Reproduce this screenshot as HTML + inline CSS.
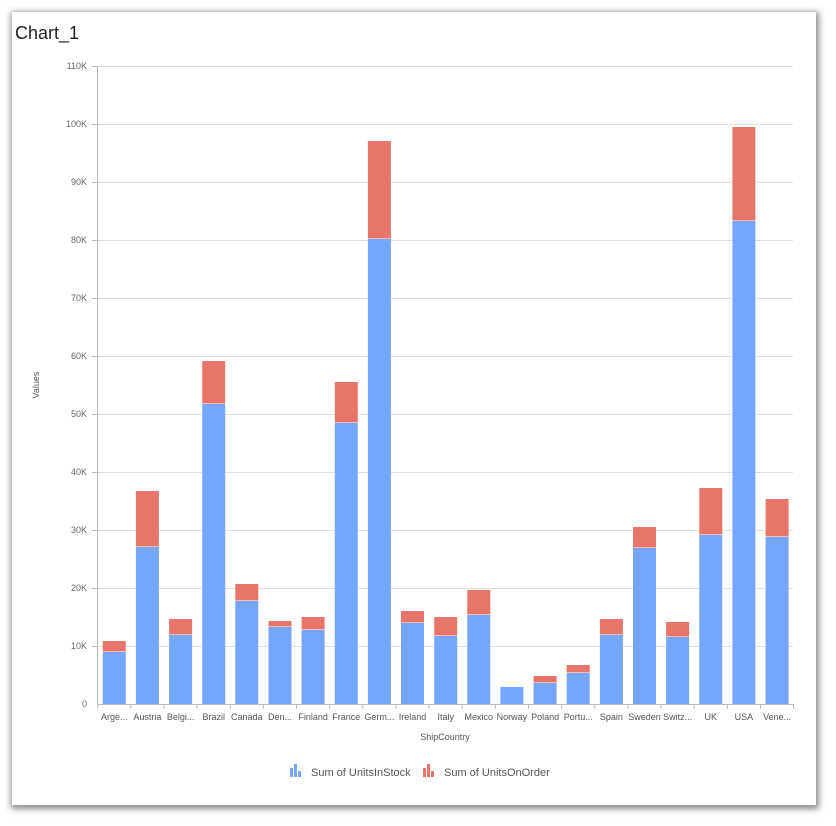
<!DOCTYPE html>
<html><head><meta charset="utf-8"><style>
html,body{margin:0;padding:0;background:#fff;}
body{width:836px;height:826px;position:relative;overflow:hidden;font-family:"Liberation Sans",sans-serif;}
.card{position:absolute;left:12px;top:12px;width:804px;height:793px;background:#fff;box-shadow:1px 2px 6px 2px rgba(0,0,0,0.45);}
</style></head><body>
<div class="card"></div>
<svg width="836" height="826" style="position:absolute;left:0;top:0" font-family="Liberation Sans, sans-serif">
<text x="15" y="39" font-size="18" fill="#222">Chart_1</text>
<g stroke="#e0e0e0" stroke-width="1">
<line x1="97" x2="793" y1="66.5" y2="66.5"/><line x1="97" x2="793" y1="124.5" y2="124.5"/>
<line x1="97" x2="793" y1="182.5" y2="182.5"/><line x1="97" x2="793" y1="240.5" y2="240.5"/>
<line x1="97" x2="793" y1="298.5" y2="298.5"/><line x1="97" x2="793" y1="356.5" y2="356.5"/>
<line x1="97" x2="793" y1="414.5" y2="414.5"/><line x1="97" x2="793" y1="472.5" y2="472.5"/>
<line x1="97" x2="793" y1="530.5" y2="530.5"/><line x1="97" x2="793" y1="588.5" y2="588.5"/>
<line x1="97" x2="793" y1="646.5" y2="646.5"/>
</g>
<g stroke="#bbb"><line x1="97.5" x2="97.5" y1="66" y2="704"/>
<line x1="92" x2="97" y1="66.5" y2="66.5"/><line x1="92" x2="97" y1="124.5" y2="124.5"/><line x1="92" x2="97" y1="182.5" y2="182.5"/><line x1="92" x2="97" y1="240.5" y2="240.5"/><line x1="92" x2="97" y1="298.5" y2="298.5"/><line x1="92" x2="97" y1="356.5" y2="356.5"/><line x1="92" x2="97" y1="414.5" y2="414.5"/><line x1="92" x2="97" y1="472.5" y2="472.5"/><line x1="92" x2="97" y1="530.5" y2="530.5"/><line x1="92" x2="97" y1="588.5" y2="588.5"/><line x1="92" x2="97" y1="646.5" y2="646.5"/>
</g>
<g font-size="9" fill="#666" text-anchor="end">
<text x="87" y="69">110K</text><text x="87" y="127">100K</text><text x="87" y="185">90K</text><text x="87" y="243">80K</text><text x="87" y="301">70K</text><text x="87" y="359">60K</text><text x="87" y="417">50K</text><text x="87" y="475">40K</text><text x="87" y="533">30K</text><text x="87" y="591">20K</text><text x="87" y="649">10K</text><text x="87" y="707">0</text>
</g>
<text x="39" y="385" font-size="9" fill="#555" text-anchor="middle" transform="rotate(-90 39 385)">Values</text>
<g fill="#75a6fb">
<rect x="102.8" y="652" width="23" height="52"/><rect x="135.9" y="547" width="23" height="157"/><rect x="169.1" y="635" width="23" height="69"/><rect x="202.2" y="404" width="23" height="300"/><rect x="235.3" y="601" width="23" height="103"/><rect x="268.5" y="627" width="23" height="77"/><rect x="301.6" y="630" width="23" height="74"/><rect x="334.8" y="423" width="23" height="281"/><rect x="367.9" y="239" width="23" height="465"/><rect x="401" y="623" width="23" height="81"/><rect x="434.2" y="636" width="23" height="68"/><rect x="467.3" y="615" width="23" height="89"/><rect x="500.4" y="687" width="23" height="17"/><rect x="533.6" y="683" width="23" height="21"/><rect x="566.7" y="673" width="23" height="31"/><rect x="599.9" y="635" width="23" height="69"/><rect x="633" y="548" width="23" height="156"/><rect x="666.1" y="637" width="23" height="67"/><rect x="699.3" y="535" width="23" height="169"/><rect x="732.4" y="221" width="23" height="483"/><rect x="765.6" y="537" width="23" height="167"/>
</g>
<g fill="#e8756a">
<rect x="102.8" y="641" width="23" height="10.5"/><rect x="135.9" y="491" width="23" height="55.5"/><rect x="169.1" y="619" width="23" height="15.5"/><rect x="202.2" y="361" width="23" height="42.5"/><rect x="235.3" y="584" width="23" height="16.5"/><rect x="268.5" y="621" width="23" height="5.5"/><rect x="301.6" y="617" width="23" height="12.5"/><rect x="334.8" y="382" width="23" height="40.5"/><rect x="367.9" y="141" width="23" height="97.5"/><rect x="401" y="611" width="23" height="11.5"/><rect x="434.2" y="617" width="23" height="18.5"/><rect x="467.3" y="590" width="23" height="24.5"/><rect x="533.6" y="676" width="23" height="6.5"/><rect x="566.7" y="665" width="23" height="7.5"/><rect x="599.9" y="619" width="23" height="15.5"/><rect x="633" y="527" width="23" height="20.5"/><rect x="666.1" y="622" width="23" height="14.5"/><rect x="699.3" y="488" width="23" height="46.5"/><rect x="732.4" y="127" width="23" height="93.5"/><rect x="765.6" y="499" width="23" height="37.5"/>
</g>
<g stroke="#bbb"><line x1="97" x2="794" y1="704.5" y2="704.5"/>
<line x1="97.7" x2="97.7" y1="704" y2="709"/><line x1="130.8" x2="130.8" y1="704" y2="709"/><line x1="164" x2="164" y1="704" y2="709"/><line x1="197.1" x2="197.1" y1="704" y2="709"/><line x1="230.3" x2="230.3" y1="704" y2="709"/><line x1="263.4" x2="263.4" y1="704" y2="709"/><line x1="296.5" x2="296.5" y1="704" y2="709"/><line x1="329.7" x2="329.7" y1="704" y2="709"/><line x1="362.8" x2="362.8" y1="704" y2="709"/><line x1="396" x2="396" y1="704" y2="709"/><line x1="429.1" x2="429.1" y1="704" y2="709"/><line x1="462.2" x2="462.2" y1="704" y2="709"/><line x1="495.4" x2="495.4" y1="704" y2="709"/><line x1="528.5" x2="528.5" y1="704" y2="709"/><line x1="561.7" x2="561.7" y1="704" y2="709"/><line x1="594.8" x2="594.8" y1="704" y2="709"/><line x1="627.9" x2="627.9" y1="704" y2="709"/><line x1="661.1" x2="661.1" y1="704" y2="709"/><line x1="694.2" x2="694.2" y1="704" y2="709"/><line x1="727.4" x2="727.4" y1="704" y2="709"/><line x1="760.5" x2="760.5" y1="704" y2="709"/><line x1="793.5" x2="793.5" y1="704" y2="709"/>
</g>
<g font-size="9" fill="#555" text-anchor="middle">
<text x="114.3" y="720">Arge...</text><text x="147.4" y="720">Austria</text><text x="180.6" y="720">Belgi...</text><text x="213.7" y="720">Brazil</text><text x="246.8" y="720">Canada</text><text x="280" y="720">Den...</text><text x="313.1" y="720">Finland</text><text x="346.3" y="720">France</text><text x="379.4" y="720">Germ...</text><text x="412.5" y="720">Ireland</text><text x="445.7" y="720">Italy</text><text x="478.8" y="720">Mexico</text><text x="511.9" y="720">Norway</text><text x="545.1" y="720">Poland</text><text x="578.2" y="720">Portu...</text><text x="611.4" y="720">Spain</text><text x="644.5" y="720">Sweden</text><text x="677.6" y="720">Switz...</text><text x="710.8" y="720">UK</text><text x="743.9" y="720">USA</text><text x="777.1" y="720">Vene...</text>
</g>
<text x="445" y="740" font-size="9" fill="#555" text-anchor="middle">ShipCountry</text>
<g fill="#75a6fb"><rect x="290" y="768" width="3" height="9"/><rect x="294" y="764" width="3" height="13"/><rect x="298" y="771" width="3" height="6"/></g>
<text x="311" y="776" font-size="11" fill="#555">Sum of UnitsInStock</text>
<g fill="#e8756a"><rect x="423" y="768" width="3" height="9"/><rect x="427" y="764" width="3" height="13"/><rect x="431" y="771" width="3" height="6"/></g>
<text x="444" y="776" font-size="11" fill="#555">Sum of UnitsOnOrder</text>
</svg>
</body></html>
